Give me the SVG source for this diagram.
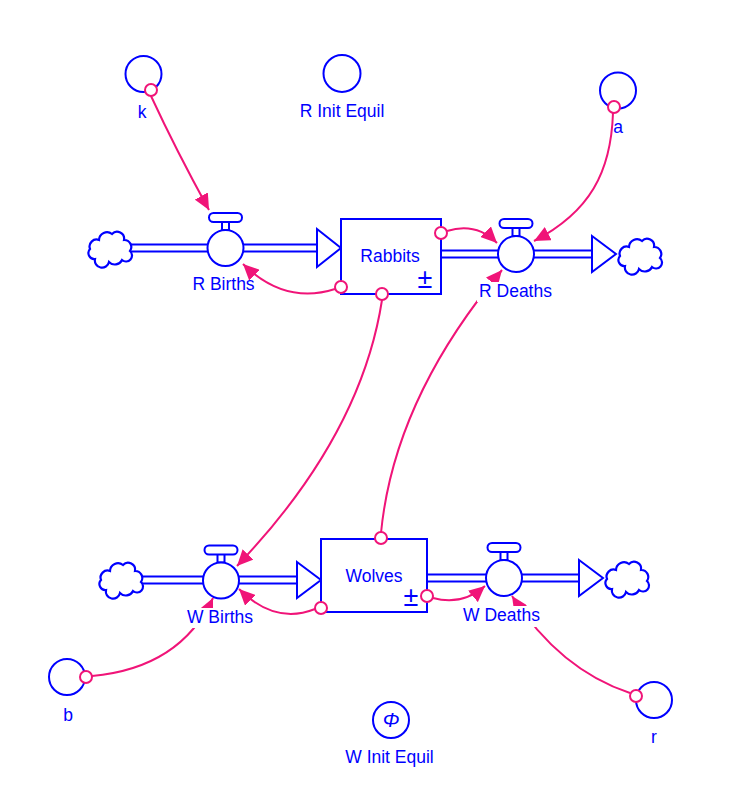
<svg xmlns="http://www.w3.org/2000/svg" xmlns:xlink="http://www.w3.org/1999/xlink" width="748" height="786" viewBox="0 0 748 786">
  <style>
    .lbl { font-family: "Liberation Sans", Arial, sans-serif; font-size: 17.5px; fill: #0000ff; text-anchor: middle; }
    .aux { fill: #ffffff; stroke: #0000ff; stroke-width: 2; }
    .stock { fill: #ffffff; stroke: #0000ff; stroke-width: 2; }
    .pipe-out { fill: none; stroke: #0000ff; stroke-width: 9; }
    .pipe-in { fill: none; stroke: #ffffff; stroke-width: 5; }
    .head { fill: #ffffff; stroke: #0000ff; stroke-width: 2; stroke-linejoin: miter; }
    .link { fill: none; stroke: #f01478; stroke-width: 2; marker-end: url(#arrow); }
    .tail { fill: #ffffff; stroke: #f01478; stroke-width: 2; }
    .pm { font-family: "Liberation Sans", Arial, sans-serif; font-size: 27px; fill: #0000ff; text-anchor: middle; }
  </style>
  <defs>
    <marker id="arrow" markerUnits="userSpaceOnUse" markerWidth="17" markerHeight="15" refX="16" refY="7.5" orient="auto">
      <path d="M0,0 L16,7.5 L0,15 Z" fill="#f01478"/>
    </marker>
    <!-- valve: round body, stem and handle -->
    <g id="valve">
      <rect x="-3.5" y="-27" width="7" height="9" fill="#ffffff" stroke="#0000ff" stroke-width="2"/>
      <rect x="-16.5" y="-35" width="33" height="9" rx="4.5" fill="#ffffff" stroke="#0000ff" stroke-width="2"/>
      <circle r="18" fill="#ffffff" stroke="#0000ff" stroke-width="2"/>
    </g>
    <!-- cloud source / sink -->
    <path id="cloud" d="M-15,11 A6,6 0 0 1 -20,1 A7,7 0 0 1 -11,-8 A8,8 0 0 1 2,-14 A7,7 0 0 1 14,-8 A7,7 0 0 1 20,3 A6,6 0 0 1 12,12 A8,8 0 0 1 -1,14 A7,7 0 0 1 -15,11 Z" fill="#ffffff" stroke="#0000ff" stroke-width="2.2"/>
    <!-- flow labels sit over the links that pass behind them -->
    <mask id="labelGaps" maskUnits="userSpaceOnUse" x="0" y="0" width="748" height="786">
      <rect width="748" height="786" fill="#ffffff"/>
      <rect x="477" y="282" width="78" height="20" fill="#000000"/>
      <rect x="461" y="606" width="82" height="21" fill="#000000"/>
      <rect x="185" y="608" width="71" height="20" fill="#000000"/>
    </mask>
  </defs>

  <!-- Rabbit flows -->
  <g id="R_Births">
    <path class="pipe-out" d="M130,248 H318"/>
    <path class="pipe-in" d="M130,248 H318"/>
    <polygon class="head" points="317,229 341,248 317,267"/>
    <use xlink:href="#cloud" x="110" y="248"/>
    <use xlink:href="#valve" x="225.5" y="248"/>
    <text class="lbl" x="223.5" y="290">R Births</text>
  </g>
  <g id="R_Deaths">
    <path class="pipe-out" d="M442,254 H593"/>
    <path class="pipe-in" d="M440,254 H593"/>
    <polygon class="head" points="592,236 616,254 592,272"/>
    <use xlink:href="#cloud" x="640" y="255"/>
    <use xlink:href="#valve" x="516" y="254"/>
    <text class="lbl" x="515.5" y="297">R Deaths</text>
  </g>
  <g id="Rabbits">
    <rect class="stock" x="341" y="219" width="100" height="75"/>
    <text class="lbl" x="390" y="262">Rabbits</text>
    <text class="pm" x="425" y="288">±</text>
  </g>

  <!-- Wolf flows -->
  <g id="W_Births">
    <path class="pipe-out" d="M142,580 H298"/>
    <path class="pipe-in" d="M142,580 H298"/>
    <polygon class="head" points="297,562 321,580 297,598"/>
    <use xlink:href="#cloud" x="121" y="579"/>
    <use xlink:href="#valve" x="221" y="580.5"/>
    <text class="lbl" x="220" y="623">W Births</text>
  </g>
  <g id="W_Deaths">
    <path class="pipe-out" d="M428,578 H580"/>
    <path class="pipe-in" d="M426,578 H580"/>
    <polygon class="head" points="579,560 603,578 579,596"/>
    <use xlink:href="#cloud" x="627" y="578"/>
    <use xlink:href="#valve" x="504" y="578"/>
    <text class="lbl" x="501.5" y="621">W Deaths</text>
  </g>
  <g id="Wolves">
    <rect class="stock" x="321" y="539" width="106" height="73"/>
    <text class="lbl" x="374" y="582">Wolves</text>
    <text class="pm" x="411" y="606">±</text>
  </g>

  <!-- Constants -->
  <g id="k">
    <circle class="aux" cx="143.5" cy="74" r="18"/>
    <text class="lbl" x="142" y="118">k</text>
  </g>
  <g id="R_Init_Equil">
    <circle class="aux" cx="342" cy="73.5" r="18.5"/>
    <text class="lbl" x="342" y="117">R Init Equil</text>
  </g>
  <g id="a">
    <circle class="aux" cx="618" cy="90.5" r="18"/>
    <text class="lbl" x="618" y="133">a</text>
  </g>
  <g id="b">
    <circle class="aux" cx="67" cy="677" r="18"/>
    <text class="lbl" x="68" y="721">b</text>
  </g>
  <g id="r">
    <circle class="aux" cx="654" cy="700" r="18"/>
    <text class="lbl" x="654" y="743">r</text>
  </g>
  <g id="W_Init_Equil">
    <circle class="aux" cx="391" cy="720" r="18"/>
    <text x="391" y="727" font-family="'Liberation Sans', Arial, sans-serif" font-size="20" font-style="italic" fill="#0000ff" text-anchor="middle">Φ</text>
    <text class="lbl" x="389.5" y="763">W Init Equil</text>
  </g>

  <!-- Links -->
  <g id="connectors">
    <g mask="url(#labelGaps)">
      <path class="link" d="M151,96 Q176,150 209,210"/>
      <path class="link" d="M613,113 C611,172 590,212 534,241"/>
      <path class="link" d="M447,231 Q476,222 497,243"/>
      <path class="link" d="M335,289 Q285,305 243,264"/>
      <path class="link" d="M382,300 Q361,436 237,566"/>
      <path class="link" d="M381,533 Q394,399 502,270"/>
      <path class="link" d="M315,609 Q275,625 239,589"/>
      <path class="link" d="M433,598 Q462,606 485,586"/>
      <path class="link" d="M92,676 Q180,668 213,598"/>
      <path class="link" d="M630,693 Q560,670 512,596"/>
    </g>
    <circle class="tail" cx="151" cy="90" r="6"/>
    <circle class="tail" cx="614" cy="107" r="6"/>
    <circle class="tail" cx="441" cy="233" r="6"/>
    <circle class="tail" cx="341" cy="287" r="6"/>
    <circle class="tail" cx="382" cy="294" r="6"/>
    <circle class="tail" cx="381" cy="538" r="6"/>
    <circle class="tail" cx="321" cy="608" r="6"/>
    <circle class="tail" cx="427" cy="596" r="6"/>
    <circle class="tail" cx="86" cy="677" r="6"/>
    <circle class="tail" cx="636" cy="696" r="6"/>
  </g>
</svg>
